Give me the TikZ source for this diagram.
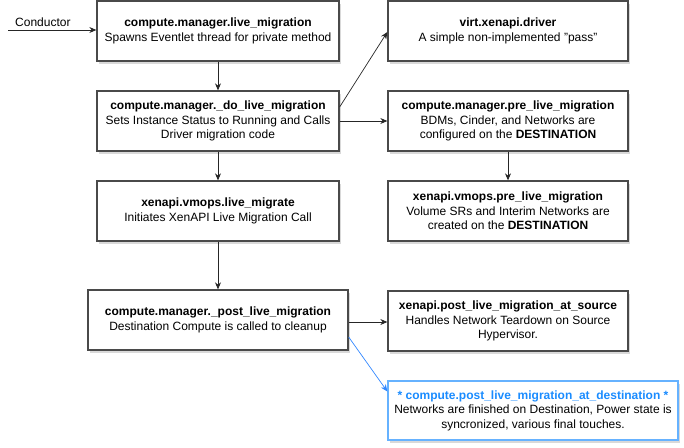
\documentclass[tikz,border=0pt]{standalone}
\usepackage{fontspec}
\setmainfont{Liberation Sans}
\usetikzlibrary{arrows.meta,shadows}
\definecolor{boxline}{HTML}{4A4A4A}
\definecolor{bluetext}{HTML}{1A8CFF}
\definecolor{blueline}{HTML}{66B2FF}
\definecolor{bluearrow}{HTML}{3388FF}
\begin{document}
\begin{tikzpicture}[x=1pt,y=-1pt,
  every node/.style={font=\fontsize{12}{14.5}\selectfont},
  box/.style={draw=boxline, line width=1.3pt, fill=white, align=center,
    minimum width=242pt, minimum height=60pt, inner sep=2pt,
    drop shadow={shadow xshift=2pt, shadow yshift=-2.5pt, opacity=0.25, fill=black!60}},
  bluebox/.style={box, draw=blueline},
  arr/.style={-{Stealth[length=7pt,width=6pt]}, line width=0.9pt, draw=black!85},
  thinarr/.style={-{Stealth[length=7pt,width=6pt]}, line width=0.7pt, draw=black!85},
  bluearr/.style={-{Stealth[length=7pt,width=6pt]}, line width=0.7pt, draw=bluearrow}
]
\useasboundingbox (0,0) rectangle (684,447);
\node[box] (b1) at (218,31) {\textbf{compute.manager.live\_migration}\\Spawns Eventlet thread for private method};
\node[box] (b2) at (218,121) {\textbf{compute.manager.\_do\_live\_migration}\\Sets Instance Status to Running and Calls\\Driver migration code};
\node[box] (b3) at (218,211) {\textbf{xenapi.vmops.live\_migrate}\\Initiates XenAPI Live Migration Call};
\node[box, minimum width=260pt] (b4) at (218,320) {\textbf{compute.manager.\_post\_live\_migration}\\Destination Compute is called to cleanup};
\node[box, minimum width=240pt] (r1) at (508,31) {\textbf{virt.xenapi.driver}\\A simple non-implemented "pass"};
\node[box, minimum width=240pt] (r2) at (508,121) {\textbf{compute.manager.pre\_live\_migration}\\BDMs, Cinder, and Networks are\\configured on the \textbf{DESTINATION}};
\node[box, minimum width=240pt] (r3) at (508,211) {\textbf{xenapi.vmops.pre\_live\_migration}\\Volume SRs and Interim Networks are\\created on the \textbf{DESTINATION}};
\node[box, minimum width=240pt] (r4) at (508,321) {\textbf{xenapi.post\_live\_migration\_at\_source}\\Handles Network Teardown on Source\\Hypervisor.};
\node[bluebox, minimum width=290pt, minimum height=59pt] (r5) at (533,410.5) {\textcolor{bluetext}{\textbf{* compute.post\_live\_migration\_at\_destination *}}\\Networks are finished on Destination, Power state is\\syncronized, various final touches.};
\coordinate (cstart) at (8,30);
\node[anchor=south west, inner sep=0pt] (clabel) at (15,27) {Conductor};
\draw[arr] (cstart) -- (cstart -| b1.west);
\draw[arr] (b1.south) -- (b2.north);
\draw[arr] (b2.south) -- (b3.north);
\draw[arr] (b3.south) -- (b4.north);
\draw[thinarr] ([yshift=14pt]b2.east) -- ([yshift=-1pt]r1.west);
\draw[arr] (b2.east) -- (r2.west);
\draw[arr] (r2.south) -- (r3.north);
\draw[arr] ([yshift=-2pt]b4.east) -- ([yshift=-2pt]b4.east -| r4.west);
\draw[bluearr] ([yshift=-17pt]b4.east) -- ([yshift=19pt]r5.west);
\end{tikzpicture}
\end{document}
